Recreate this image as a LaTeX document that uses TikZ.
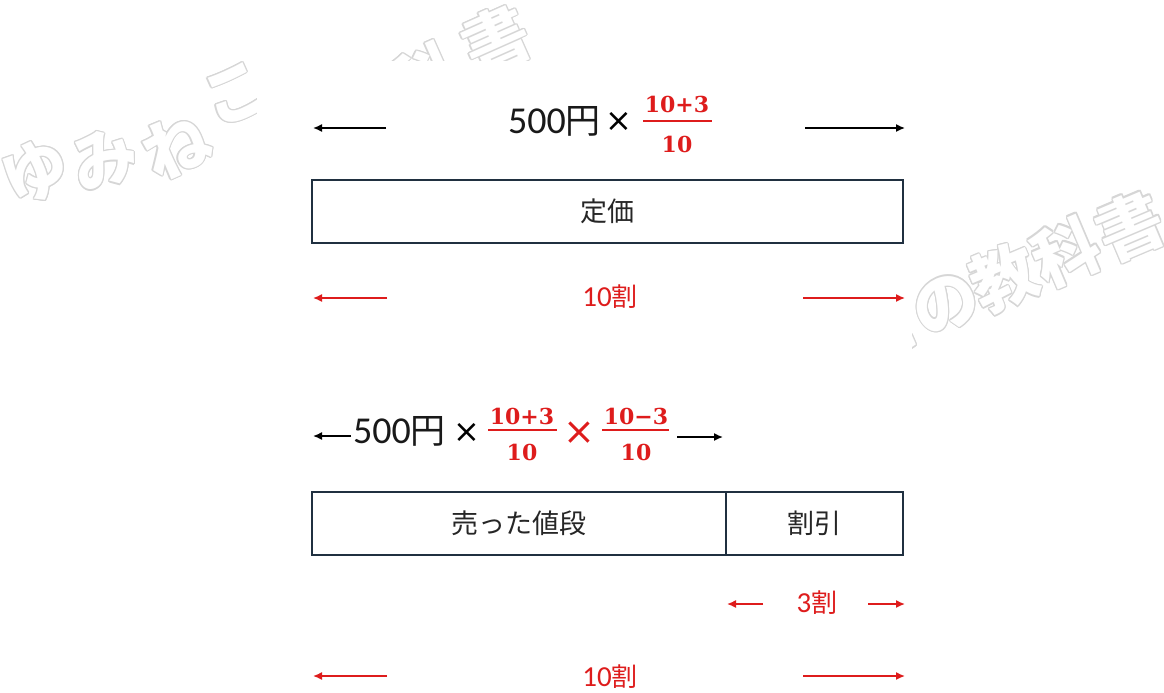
\documentclass[tikz,border=0pt]{standalone}
\usepackage{fontspec}
\newfontfamily\jpfont{Noto Sans CJK JP}
\newfontfamily\calfont{Carlito}
\newfontfamily\frcfont{DejaVu Serif}
\newfontfamily\dvfont{DejaVu Sans}
\usetikzlibrary{arrows.meta,calc}
\definecolor{boxline}{RGB}{32,48,64}
\definecolor{myred}{RGB}{222,28,28}
\definecolor{wmgray}{RGB}{214,214,214}
\tikzset{
  box/.style={draw=boxline, line width=2.4pt, fill=white, inner sep=0pt, minimum height=63pt,
              font=\jpfont\fontsize{27}{27}\selectfont, text=black!85},
  blkarrow/.style={draw=black, line width=1.5pt, -{Latex[length=9pt,width=8pt]}},
  redarrow/.style={draw=myred, line width=1.5pt, -{Latex[length=9pt,width=8pt]}},
  price/.style={inner sep=0pt, anchor=base west, text=black!90},
  frnum/.style={inner sep=0pt, anchor=base, text=myred, font=\frcfont\bfseries\fontsize{22}{22}\selectfont},
  frline/.style={draw=myred, line width=2.8pt},
  times/.style={inner sep=0pt, font=\dvfont\fontsize{32}{32}\selectfont},
  wari/.style={inner sep=0pt, text=myred},
  wm/.style={inner sep=0pt, font=\jpfont\bfseries\fontsize{66}{66}\selectfont}
}
\newcommand{\priceyen}{{\calfont\fontsize{38}{38}\selectfont 500}{\jpfont\fontsize{35}{35}\selectfont 円}}
\newcommand{\warilabel}[1]{{\calfont\fontsize{29}{29}\selectfont #1}{\jpfont\fontsize{26}{26}\selectfont 割}}
\begin{document}
\begin{tikzpicture}[x=1pt,y=-1pt]
\useasboundingbox (0,0) rectangle (1164,693);
\fill[white] (0,0) rectangle (1164,693);
% watermark (outlined text, two copies, partly hidden by the diagram's white area)
\foreach \ch/\cx/\cy/\ang in {ゆ/36/172/24, み/104/160/24, ね/176/146/24, こ/236/94/24,
    の/292/118/24, 教/352/104/24, 科/424/78/24, 書/496/40/24,
    こ/886/332/23, の/946/304/23, 教/1004/278/23, 科/1066/252/23, 書/1130/226/23}{
  \foreach \a in {0,30,...,330}{
    \node[wm, text=wmgray, rotate=\ang] at ($(\cx,\cy)+(\a:1.2)$) {\ch};
  }
  \node[wm, text=white, rotate=\ang] at (\cx,\cy) {\ch};
}
\fill[white] (257,61) rectangle (912,693);

% ---------- top section ----------
\node[price] (p1) at (508,133) {\priceyen};
\node[times] (x1) at (619,122) {×};
\node[frnum] (n1) at (677,112) {10+3};
\node[frnum] (d1) at (677,152) {10};
\coordinate (l1a) at (643,121); \coordinate (l1b) at (712,121);
\draw[frline] (l1a) -- (l1b);
\coordinate (ta1s) at (386,128); \coordinate (ta1e) at (313,128);
\coordinate (ta2s) at (805,128); \coordinate (ta2e) at (905,128);
\draw[blkarrow] (ta1s) -- (ta1e);
\draw[blkarrow] (ta2s) -- (ta2e);

\node[box, minimum width=591pt] (teika) at (607.5,211.5) {定価};

\node[wari] (w10a) at (610,297) {\warilabel{10}};
\coordinate (ra1s) at (387,298); \coordinate (ra1e) at (313,298);
\coordinate (ra2s) at (803,298); \coordinate (ra2e) at (905,298);
\draw[redarrow] (ra1s) -- (ra1e);
\draw[redarrow] (ra2s) -- (ra2e);

% ---------- bottom section ----------
\node[price] (p2) at (353,443) {\priceyen};
\node[times] (x2) at (467,433) {×};
\node[frnum] (n2) at (522,424) {10+3};
\node[frnum] (d2) at (522,460) {10};
\coordinate (l2a) at (488,430); \coordinate (l2b) at (557,430);
\draw[frline] (l2a) -- (l2b);
\node[times, text=myred, font=\dvfont\fontsize{38}{38}\selectfont] (x3) at (579,433) {×};
\node[frnum] (n3) at (636,424) {10−3};
\node[frnum] (d3) at (636,460) {10};
\coordinate (l3a) at (602,430); \coordinate (l3b) at (669,430);
\draw[frline] (l3a) -- (l3b);
\coordinate (ba1s) at (351,436); \coordinate (ba1e) at (313,436);
\coordinate (ba2s) at (677,437); \coordinate (ba2e) at (723,437);
\draw[blkarrow] (ba1s) -- (ba1e);
\draw[blkarrow] (ba2s) -- (ba2e);

\node[box, minimum width=414pt] (ureta) at (519,523.5) {売った値段};
\node[box, minimum width=177pt] (waribiki) at (814.5,523.5) {割引};

\node[wari] (w3) at (817,603) {\warilabel{3}};
\coordinate (sa1s) at (763,604); \coordinate (sa1e) at (727,604);
\coordinate (sa2s) at (868,604); \coordinate (sa2e) at (905,604);
\draw[redarrow] (sa1s) -- (sa1e);
\draw[redarrow] (sa2s) -- (sa2e);

\node[wari] (w10b) at (610,677) {\warilabel{10}};
\coordinate (rb1s) at (387,676); \coordinate (rb1e) at (313,676);
\coordinate (rb2s) at (803,676); \coordinate (rb2e) at (905,676);
\draw[redarrow] (rb1s) -- (rb1e);
\draw[redarrow] (rb2s) -- (rb2e);
\end{tikzpicture}
\end{document}
